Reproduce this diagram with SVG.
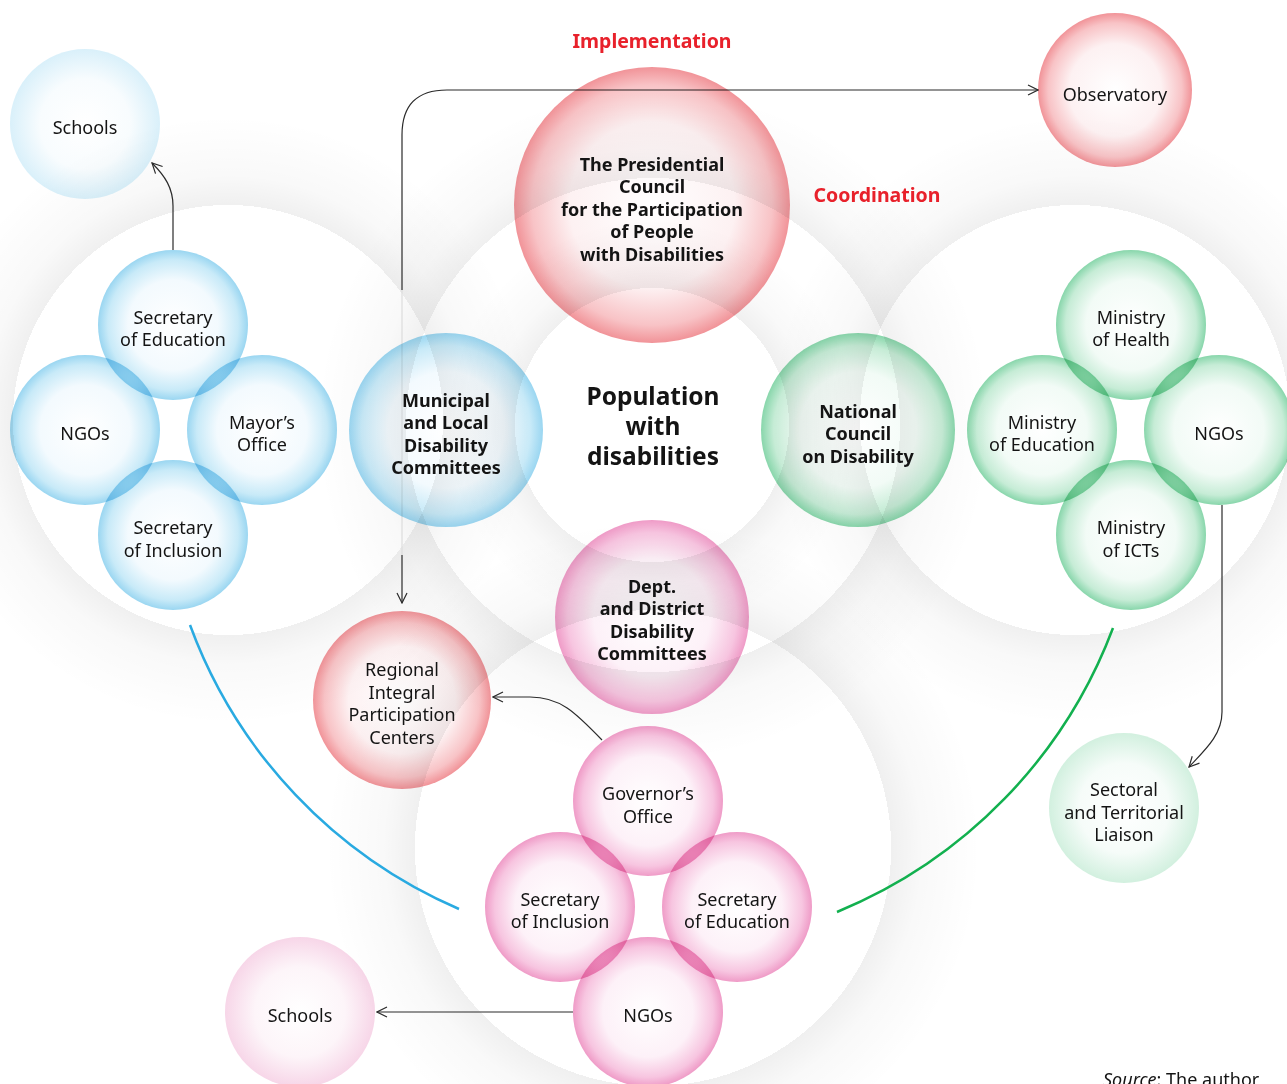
<svg xmlns="http://www.w3.org/2000/svg" width="1287" height="1084" viewBox="0 0 1287 1084">
<defs>
<style>
text{font-family:"Noto Sans","Open Sans","DejaVu Sans",sans-serif;fill:#141414;text-anchor:middle}
.r{font-size:18px}
.b{font-size:18px;font-weight:700}
.big{font-size:24.5px;font-weight:700}
.hd{font-size:19.5px;font-weight:700;fill:#e8212b}
.n{mix-blend-mode:multiply}
.con{fill:none;stroke:#2b2b2b;stroke-width:1.2}
</style>
<marker id="ar" viewBox="0 0 12 12" refX="11" refY="6" markerWidth="12" markerHeight="12" markerUnits="userSpaceOnUse" orient="auto">
<path d="M1,1 L11,6 L1,11" fill="none" stroke="#2b2b2b" stroke-width="1.2"/>
</marker>
<radialGradient id="gB"><stop offset="0" stop-color="#ffffff"/><stop offset="0.6" stop-color="#f3fafe"/><stop offset="0.87" stop-color="#c8eaf8"/><stop offset="1" stop-color="#9ad6f1"/></radialGradient>
<radialGradient id="gBf"><stop offset="0" stop-color="#ffffff"/><stop offset="0.6" stop-color="#f8fcfe"/><stop offset="1" stop-color="#d9f0fa"/></radialGradient>
<radialGradient id="gG"><stop offset="0" stop-color="#ffffff"/><stop offset="0.6" stop-color="#f2fbf6"/><stop offset="0.87" stop-color="#c6ecd6"/><stop offset="1" stop-color="#88d6ab"/></radialGradient>
<radialGradient id="gGf"><stop offset="0" stop-color="#ffffff"/><stop offset="0.6" stop-color="#f6fcf9"/><stop offset="1" stop-color="#d2f0df"/></radialGradient>
<radialGradient id="gR"><stop offset="0" stop-color="#ffffff"/><stop offset="0.6" stop-color="#fdf1f2"/><stop offset="0.87" stop-color="#f8c3c6"/><stop offset="1" stop-color="#f19398"/></radialGradient>
<radialGradient id="gP"><stop offset="0" stop-color="#ffffff"/><stop offset="0.6" stop-color="#fdf1f8"/><stop offset="0.87" stop-color="#f7c5e0"/><stop offset="1" stop-color="#ef9bc7"/></radialGradient>
<radialGradient id="gPf"><stop offset="0" stop-color="#ffffff"/><stop offset="0.6" stop-color="#fdf5f9"/><stop offset="1" stop-color="#f7d6e8"/></radialGradient>
<radialGradient id="sh1"><stop offset="0" stop-color="#000" stop-opacity="0"/><stop offset="0.705" stop-color="#000" stop-opacity="0"/><stop offset="0.705" stop-color="#000" stop-opacity="0.06"/><stop offset="0.8" stop-color="#000" stop-opacity="0.025"/><stop offset="1" stop-color="#000" stop-opacity="0"/></radialGradient>
<radialGradient id="sh2"><stop offset="0" stop-color="#000" stop-opacity="0"/><stop offset="0.733" stop-color="#000" stop-opacity="0"/><stop offset="0.733" stop-color="#000" stop-opacity="0.06"/><stop offset="0.82" stop-color="#000" stop-opacity="0.025"/><stop offset="1" stop-color="#000" stop-opacity="0"/></radialGradient>
<radialGradient id="sh3"><stop offset="0" stop-color="#000" stop-opacity="0"/><stop offset="0.726" stop-color="#000" stop-opacity="0"/><stop offset="0.726" stop-color="#000" stop-opacity="0.06"/><stop offset="0.82" stop-color="#000" stop-opacity="0.025"/><stop offset="1" stop-color="#000" stop-opacity="0"/></radialGradient>
<radialGradient id="sh4"><stop offset="0" stop-color="#000" stop-opacity="0"/><stop offset="0.662" stop-color="#000" stop-opacity="0"/><stop offset="0.662" stop-color="#000" stop-opacity="0.06"/><stop offset="0.78" stop-color="#000" stop-opacity="0.025"/><stop offset="1" stop-color="#000" stop-opacity="0"/></radialGradient>
</defs>
<rect width="1287" height="1084" fill="#ffffff"/>
<g id="background">
<circle cx="228" cy="420" r="305" fill="url(#sh1)"/>
<circle cx="1075" cy="420" r="305" fill="url(#sh1)"/>
<circle cx="653" cy="425" r="337" fill="url(#sh2)"/>
<circle cx="653" cy="848" r="328" fill="url(#sh3)"/>
<circle cx="652" cy="425" r="207" fill="url(#sh4)"/>
</g>
<g id="connectors">
<path class="con" d="M173,250 V206 C173,188 165,176 152,163" marker-end="url(#ar)"/>
<path class="con" d="M402,290 V135 Q402,90 447,90 H1038" marker-end="url(#ar)"/>
<path d="M402,290 V555" fill="none" stroke="#dcdcdc" stroke-width="1.2"/>
<path class="con" d="M402,555 V603" marker-end="url(#ar)"/>
<path class="con" d="M602,740 C575,712 560,697 530,697 H493" marker-end="url(#ar)"/>
<path class="con" d="M573,1012 H377" marker-end="url(#ar)"/>
<path class="con" d="M1222,505 V712 C1222,735 1205,750 1189,767" marker-end="url(#ar)"/>
<path d="M190,625 A496,496 0 0 0 459,909" fill="none" stroke="#29aae1" stroke-width="2.5"/>
<path d="M1113,628 A496,496 0 0 1 837,912" fill="none" stroke="#12b04f" stroke-width="2.5"/>
</g>
<g id="labels">
<text class="hd" x="652" y="48">Implementation</text>
<text class="hd" x="877" y="202">Coordination</text>
<text class="r" x="1103" y="1086" style="text-anchor:start"><tspan font-style="italic">Source</tspan>: The author</text>
</g>
<g id="population"><text class="big" x="653" y="405">Population</text><text class="big" x="653" y="435">with</text><text class="big" x="653" y="465">disabilities</text></g>
<g id="presidential"><circle class="n" cx="652" cy="205" r="138" fill="url(#gR)"/><text class="b" x="652" y="171">The Presidential</text><text class="b" x="652" y="193">Council</text><text class="b" x="652" y="216">for the Participation</text><text class="b" x="652" y="238">of People</text><text class="b" x="652" y="261">with Disabilities</text></g>
<g id="observatory"><circle class="n" cx="1115" cy="90" r="77" fill="url(#gR)"/><text class="r" x="1115" y="101">Observatory</text></g>
<g id="schools-top"><circle class="n" cx="85" cy="124" r="75" fill="url(#gBf)"/><text class="r" x="85" y="134">Schools</text></g>
<g id="sec-edu-left"><circle class="n" cx="173" cy="325" r="75" fill="url(#gB)"/><text class="r" x="173" y="324">Secretary</text><text class="r" x="173" y="346">of Education</text></g>
<g id="ngos-left"><circle class="n" cx="85" cy="430" r="75" fill="url(#gB)"/><text class="r" x="85" y="440">NGOs</text></g>
<g id="mayor"><circle class="n" cx="262" cy="430" r="75" fill="url(#gB)"/><text class="r" x="262" y="429">Mayor’s</text><text class="r" x="262" y="451">Office</text></g>
<g id="sec-inc-left"><circle class="n" cx="173" cy="535" r="75" fill="url(#gB)"/><text class="r" x="173" y="534">Secretary</text><text class="r" x="173" y="557">of Inclusion</text></g>
<g id="municipal"><circle class="n" cx="446" cy="430" r="97" fill="url(#gB)"/><text class="b" x="446" y="407">Municipal</text><text class="b" x="446" y="429">and Local</text><text class="b" x="446" y="452">Disability</text><text class="b" x="446" y="474">Committees</text></g>
<g id="national"><circle class="n" cx="858" cy="430" r="97" fill="url(#gG)"/><text class="b" x="858" y="418">National</text><text class="b" x="858" y="440">Council</text><text class="b" x="858" y="463">on Disability</text></g>
<g id="min-health"><circle class="n" cx="1131" cy="325" r="75" fill="url(#gG)"/><text class="r" x="1131" y="324">Ministry</text><text class="r" x="1131" y="346">of Health</text></g>
<g id="min-edu"><circle class="n" cx="1042" cy="430" r="75" fill="url(#gG)"/><text class="r" x="1042" y="429">Ministry</text><text class="r" x="1042" y="451">of Education</text></g>
<g id="ngos-right"><circle class="n" cx="1219" cy="430" r="75" fill="url(#gG)"/><text class="r" x="1219" y="440">NGOs</text></g>
<g id="min-ict"><circle class="n" cx="1131" cy="535" r="75" fill="url(#gG)"/><text class="r" x="1131" y="534">Ministry</text><text class="r" x="1131" y="557">of ICTs</text></g>
<g id="sectoral"><circle class="n" cx="1124" cy="808" r="75" fill="url(#gGf)"/><text class="r" x="1124" y="796">Sectoral</text><text class="r" x="1124" y="819">and Territorial</text><text class="r" x="1124" y="841">Liaison</text></g>
<g id="regional"><circle class="n" cx="402" cy="700" r="89" fill="url(#gR)"/><text class="r" x="402" y="676">Regional</text><text class="r" x="402" y="699">Integral</text><text class="r" x="402" y="721">Participation</text><text class="r" x="402" y="744">Centers</text></g>
<g id="dept"><circle class="n" cx="652" cy="617" r="97" fill="url(#gP)"/><text class="b" x="652" y="593">Dept.</text><text class="b" x="652" y="615">and District</text><text class="b" x="652" y="638">Disability</text><text class="b" x="652" y="660">Committees</text></g>
<g id="governor"><circle class="n" cx="648" cy="801" r="75" fill="url(#gP)"/><text class="r" x="648" y="800">Governor’s</text><text class="r" x="648" y="823">Office</text></g>
<g id="sec-inc-bottom"><circle class="n" cx="560" cy="907" r="75" fill="url(#gP)"/><text class="r" x="560" y="906">Secretary</text><text class="r" x="560" y="928">of Inclusion</text></g>
<g id="sec-edu-bottom"><circle class="n" cx="737" cy="907" r="75" fill="url(#gP)"/><text class="r" x="737" y="906">Secretary</text><text class="r" x="737" y="928">of Education</text></g>
<g id="ngos-bottom"><circle class="n" cx="648" cy="1012" r="75" fill="url(#gP)"/><text class="r" x="648" y="1022">NGOs</text></g>
<g id="schools-bottom"><circle class="n" cx="300" cy="1012" r="75" fill="url(#gPf)"/><text class="r" x="300" y="1022">Schools</text></g>
</svg>
